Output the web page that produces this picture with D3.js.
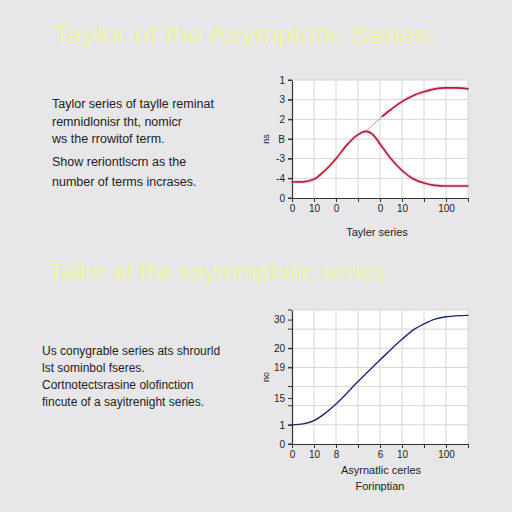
<!DOCTYPE html>
<html>
<head>
<meta charset="utf-8">
<script src="https://cdn.jsdelivr.net/npm/d3@7/dist/d3.min.js"></script>
<style>
  html, body { margin: 0; padding: 0; background: #e7e7e9; }
  svg { display: block; }
</style>
</head>
<body>
<svg id="chart" width="512" height="512"></svg>
<script>
// Textos
const titulo1 = "Taylor of the Asymptotic Series:";
const titulo2 = "Tallor af the ssymmptotic series";
const parrafo1 = [
  "Taylor series of taylle reminat",
  "remnidlonisr tht, nomicr",
  "ws the rrowitof term.",
  "Show reriontlscrn as the",
  "number of terms incrases."
];
const parrafo2 = [
  "Us conygrable series ats shrourld",
  "lst sominbol fseres.",
  "Cortnotectsrasine olofinction",
  "fincute of a sayitrenight series."
];

// Ejes (etiquetas)
const xTicksArriba = ["0", "10", "0", "", "0", "10", "", "100", ""];
const yTicksArriba = ["0", "-4", "-3", "B", "2", "3", "1"];
const xTicksAbajo = ["0", "10", "8", "", "6", "10", "", "100", ""];
const yEtiquetasAbajo = [[0, "0"], [1, "1"], [2.4, "15"], [4, "19"], [5, "20"], [6.5, "30"]];

// Series del gráfico de arriba (unidades de la cuadrícula)
const taylorCampana = [[0, 0.81], [0.5, 0.82], [1, 0.95], [1.5, 1.4], [2, 2.0], [2.5, 2.7], [3, 3.22], [3.36, 3.39],
  [3.7, 3.2], [4, 2.75], [4.5, 2.0], [5, 1.4], [5.5, 0.98], [6, 0.76], [6.5, 0.64], [7, 0.61], [8, 0.61]];
const taylorConector = [[3.36, 3.39], [4.1, 4.15]];
const taylorArriba = [[4.1, 4.15], [4.5, 4.5], [5, 4.9], [5.5, 5.2], [6, 5.4], [6.5, 5.55], [7, 5.6], [7.5, 5.6], [8, 5.55]];

// Serie del gráfico de abajo
const asintotica = [[0, 1.0], [0.5, 1.05], [1, 1.22], [1.5, 1.6], [2, 2.09], [3, 3.26], [4, 4.39], [5, 5.47], [5.5, 5.95], [6, 6.27], [6.5, 6.52], [7, 6.65], [8, 6.72]];

const svg = d3.select("#chart");
const fuente = "'Liberation Sans', Arial, sans-serif";

// Títulos
svg.append("text").text(titulo1)
  .attr("x", 53).attr("y", 43)
  .attr("textLength", 383).attr("lengthAdjust", "spacingAndGlyphs")
  .style("font-family", fuente).style("font-size", "23px")
  .style("fill", "#eef2a2");

svg.append("text").text(titulo2)
  .attr("x", 48).attr("y", 280)
  .attr("textLength", 337).attr("lengthAdjust", "spacingAndGlyphs")
  .style("font-family", fuente).style("font-size", "23px")
  .style("fill", "#eef2a2");

// Párrafos
function parrafo(lineas, x, ys, size) {
  lineas.forEach((l, i) => {
    svg.append("text").text(l)
      .attr("x", x).attr("y", ys[i])
      .style("font-family", fuente).style("font-size", size)
      .style("fill", "#222");
  });
}
parrafo(parrafo1, 52, [108, 126, 143, 166, 186], "12.5px");
parrafo(parrafo2, 42, [355, 372, 389, 406], "12px");

// Función para dibujar un panel
function panel(cfg) {
  const x = d3.scaleLinear().domain([0, 8]).range([292, 468]);
  const y = d3.scaleLinear().domain([0, cfg.ymax]).range([cfg.bottom, cfg.top]);
  const g = svg.append("g");

  g.append("rect")
    .attr("x", x(0)).attr("y", y(cfg.ymax))
    .attr("width", x(8) - x(0)).attr("height", y(0) - y(cfg.ymax))
    .attr("fill", "#ffffff");

  // Cuadrícula
  g.selectAll(".gv").data(d3.range(1, 9)).enter().append("line")
    .attr("x1", d => x(d)).attr("x2", d => x(d))
    .attr("y1", y(0)).attr("y2", y(cfg.ymax))
    .attr("stroke", "#d6d6d8").attr("stroke-width", 1);
  g.selectAll(".gh").data(d3.range(1, cfg.ymax + 1)).enter().append("line")
    .attr("x1", x(0)).attr("x2", x(8))
    .attr("y1", d => y(d)).attr("y2", d => y(d))
    .attr("stroke", "#d6d6d8").attr("stroke-width", 1);

  // Ejes
  const ejeX = d3.axisBottom(x).tickValues(d3.range(0, 9))
    .tickFormat((d, i) => cfg.xTicks[i]).tickSize(4).tickSizeOuter(0);
  const gx = g.append("g").attr("transform", "translate(0," + y(0) + ")").call(ejeX);

  const ejeY = d3.axisLeft(y).tickValues(cfg.yTickVals)
    .tickFormat((d, i) => cfg.yTickLabels[i]).tickSize(4).tickSizeOuter(0);
  const gy = g.append("g").attr("transform", "translate(" + x(0) + ",0)").call(ejeY);

  [gx, gy].forEach(a => {
    a.select(".domain").attr("stroke", "#333").attr("stroke-width", 1.2);
    a.selectAll(".tick line").attr("stroke", "#333");
    a.selectAll(".tick text")
      .style("font-family", fuente).style("font-size", "10px").style("fill", "#222");
  });

  // Marcas extra en el eje Y
  g.selectAll(".ty").data(d3.range(0, cfg.ymax + 1)).enter().append("line")
    .attr("x1", x(0) - 4).attr("x2", x(0))
    .attr("y1", d => y(d)).attr("y2", d => y(d))
    .attr("stroke", "#333");

  const linea = d3.line().x(d => x(d[0])).y(d => y(d[1])).curve(d3.curveMonotoneX);

  cfg.series.forEach(s => {
    if (s.halo) {
      g.append("path").datum(s.data).attr("d", linea)
        .attr("fill", "none").attr("stroke", s.halo)
        .attr("stroke-width", s.width + 2.5).attr("stroke-opacity", 0.3);
    }
    g.append("path").datum(s.data).attr("d", linea)
      .attr("fill", "none").attr("stroke", s.color)
      .attr("stroke-width", s.width).attr("stroke-linecap", "round");
  });

  // Títulos de eje
  cfg.xLabels.forEach(t => {
    g.append("text").text(t.text)
      .attr("x", t.x).attr("y", t.y).attr("text-anchor", "middle")
      .style("font-family", fuente).style("font-size", "11px").style("fill", "#222");
  });
  g.append("text").text(cfg.yLabel)
    .attr("transform", "translate(" + 269 + "," + ((cfg.top + cfg.bottom) / 2) + ") rotate(-90)")
    .attr("text-anchor", "middle")
    .style("font-family", fuente).style("font-size", "9px").style("fill", "#222");
}

panel({
  top: 80, bottom: 198, ymax: 6,
  xTicks: xTicksArriba,
  yTickVals: d3.range(0, 7),
  yTickLabels: yTicksArriba,
  yLabel: "ns",
  xLabels: [{ text: "Tayler series", x: 377, y: 236 }],
  series: [
    { data: taylorConector, color: "#9a8a8e", width: 0.8 },
    { data: taylorCampana, color: "#a8203c", width: 1.6, halo: "#f08aa0" },
    { data: taylorArriba, color: "#a8203c", width: 1.6, halo: "#f08aa0" }
  ]
});

panel({
  top: 310, bottom: 444, ymax: 7,
  xTicks: xTicksAbajo,
  yTickVals: yEtiquetasAbajo.map(d => d[0]),
  yTickLabels: yEtiquetasAbajo.map(d => d[1]),
  yLabel: "no",
  xLabels: [
    { text: "Asyrnatlic cerles", x: 381, y: 474 },
    { text: "Forinptian", x: 380, y: 490 }
  ],
  series: [
    { data: asintotica, color: "#1c2a6a", width: 1.4 }
  ]
});
</script>
</body>
</html>
